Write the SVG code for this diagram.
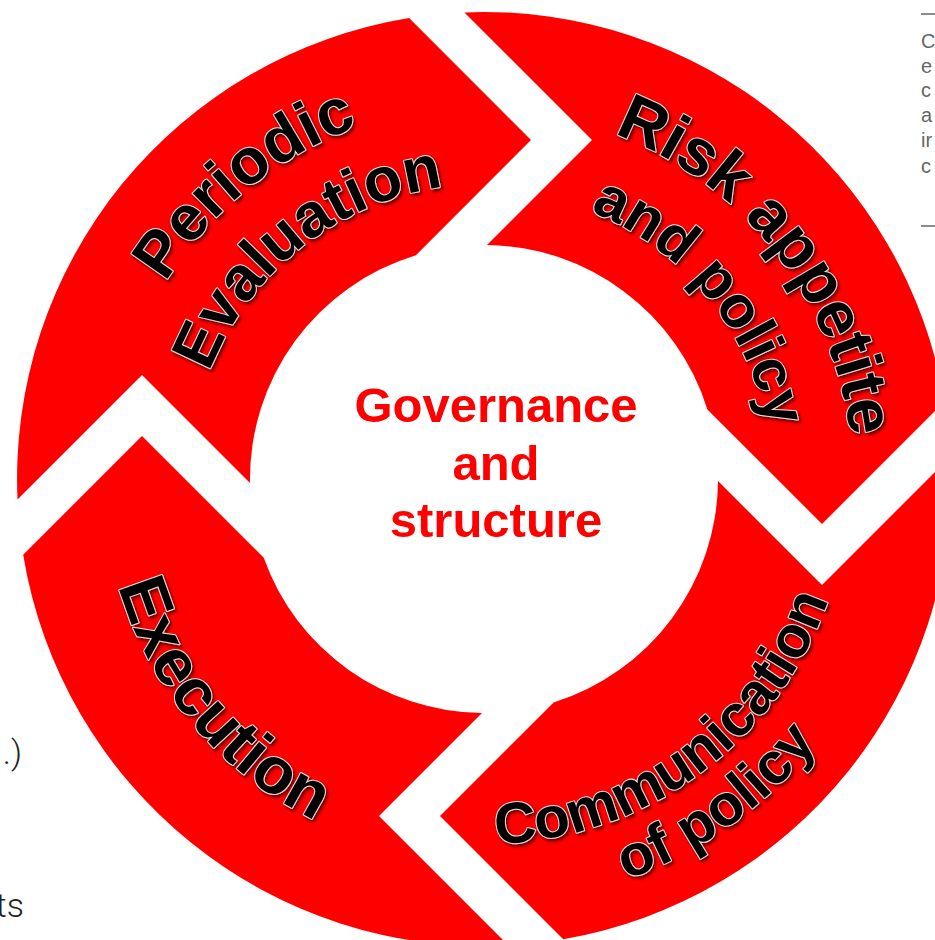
<svg xmlns="http://www.w3.org/2000/svg" width="935" height="940" viewBox="0 0 935 940">
  <style>
    .seg { fill: #ff0000; }
    .ring { font-family: "Liberation Sans", Arial, sans-serif; font-weight: bold; fill: #000; stroke: #e2e2e2; stroke-width: 2; paint-order: stroke; stroke-linejoin: round; filter: url(#sh); }
    .center { font-family: "Liberation Sans", Arial, sans-serif; font-weight: bold; fill: #ff0000; font-size: 49px; text-anchor: middle; }
    .frag { font-family: "Liberation Sans", Arial, sans-serif; fill: #666; font-size: 20px; }
    .frag2 { font-family: Roboto, "Liberation Sans", sans-serif; font-weight: 300; fill: #222; font-size: 34px; text-anchor: end; }
  </style>
  <defs>
    <filter id="sh" x="-10%" y="-10%" width="120%" height="120%">
      <feDropShadow dx="2" dy="2.5" stdDeviation="1.5" flood-color="#000" flood-opacity="0.55"/>
    </filter>
    <path id="pPeriodic" d="M156.9,660.3 A374,374 0 0 1 729.4,196.7"/>
    <path id="pEvaluation" d="M224.3,618.9 A295,295 0 0 1 680.2,258.7"/>
    <path id="pRisk" d="M310.8,153.2 A369,369 0 0 1 758.2,725.9"/>
    <path id="pAndPolicy" d="M342.6,228.1 A288,288 0 0 1 702.7,666.4"/>
    <path id="pExecution" d="M192.1,234.1 A381,381 0 0 0 674.5,808.9"/>
    <path id="pCommunication" d="M231.8,742.9 A365,365 0 0 0 811.2,317.3"/>
    <path id="pOfPolicy" d="M186.7,782.7 A425,425 0 0 0 867.3,295.4"/>
  </defs>
  <rect width="935" height="940" fill="#ffffff"/>

  <g id="periodic-evaluation">
    <path class="seg" d="M17.5,499.5 L142,375 L250,483 A234,234 0 0 1 415.9,255.2 L531,140 L409.1,18.1 A467,467 0 0 0 17.5,499.5 Z"/>
    <text class="ring" font-size="64"><textPath href="#pPeriodic" startOffset="50%" text-anchor="middle">Periodic</textPath></text>
    <text class="ring" font-size="62"><textPath href="#pEvaluation" startOffset="50%" text-anchor="middle">Evaluation</textPath></text>
  </g>

  <g id="risk-appetite-and-policy">
    <path class="seg" d="M464.4,12.4 L592,140 L487,245 A234,234 0 0 1 707.4,409.4 L822,524 L944.5,401.5 A467,467 0 0 0 464.4,12.4 Z"/>
    <text class="ring" font-size="65"><textPath href="#pRisk" startOffset="50%" text-anchor="middle">Risk appetite</textPath></text>
    <text class="ring" font-size="59"><textPath href="#pAndPolicy" startOffset="50%" text-anchor="middle">and policy</textPath></text>
  </g>

  <g id="communication-of-policy">
    <path class="seg" d="M950.5,456.5 L822,585 L718,481 A234,234 0 0 1 553.6,702.4 L440,816 L563.2,939.2 A467,467 0 0 0 950.5,456.5 Z"/>
    <text class="ring" font-size="58"><textPath href="#pCommunication" startOffset="50%" text-anchor="middle">Communication</textPath></text>
    <text class="ring" font-size="58"><textPath href="#pOfPolicy" startOffset="50%" text-anchor="middle">of policy</textPath></text>
  </g>

  <g id="execution">
    <path class="seg" d="M508.4,945.4 L379,816 L482,713 A234,234 0 0 1 263.6,557.6 L142,436 L23.2,554.8 A467,467 0 0 0 508.4,945.4 Z"/>
    <text class="ring" font-size="66"><textPath href="#pExecution" startOffset="50%" text-anchor="middle">Execution</textPath></text>
  </g>

  <g id="governance-and-structure">
    <text class="center" x="496" y="422">Governance</text>
    <text class="center" x="496" y="480">and</text>
    <text class="center" x="496" y="537">structure</text>
  </g>

  <g id="connectors"></g>

  <g id="page-fragments">
    <line x1="921" y1="14" x2="935" y2="14" stroke="#666" stroke-width="1.5"/>
    <text class="frag" x="921" y="48">C</text>
    <text class="frag" x="921" y="73">e</text>
    <text class="frag" x="921" y="97">c</text>
    <text class="frag" x="921" y="122">a</text>
    <text class="frag" x="921" y="147">ir</text>
    <text class="frag" x="921" y="173">c</text>
    <line x1="921" y1="226" x2="935" y2="226" stroke="#666" stroke-width="1.5"/>
    <text class="frag2" x="22" y="764">.)</text>
    <text class="frag2" x="24" y="917">ts</text>
  </g>
</svg>
